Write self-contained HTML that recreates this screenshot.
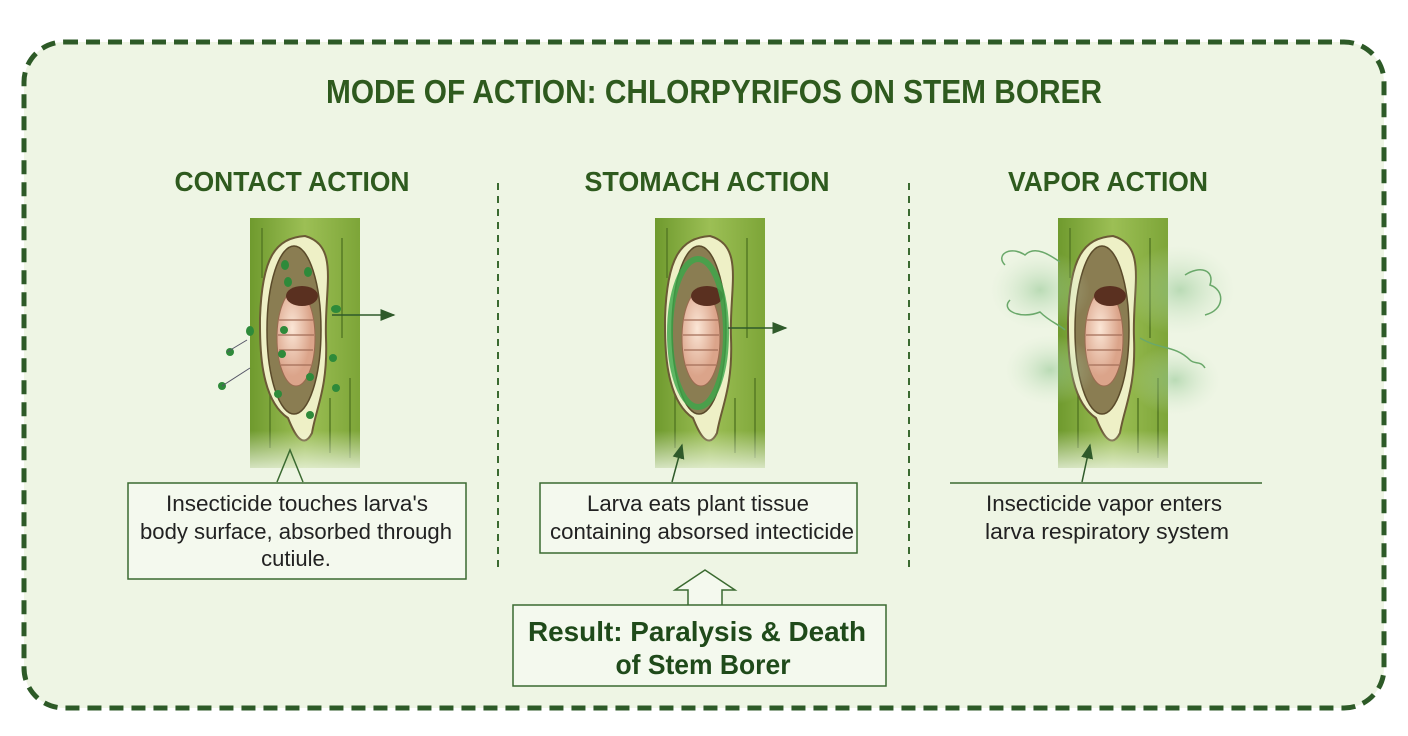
<!DOCTYPE html>
<html><head><style>
body{margin:0;background:#fff}
svg{display:block}
text{font-family:"Liberation Sans",sans-serif}
</style></head><body>
<svg width="1408" height="736" viewBox="0 0 1408 736" xmlns="http://www.w3.org/2000/svg">
<defs>
<linearGradient id="stem" x1="0" x2="1">
<stop offset="0" stop-color="#6f9a2e"/><stop offset="0.5" stop-color="#9cbf55"/><stop offset="1" stop-color="#7da538"/>
</linearGradient>
<linearGradient id="fade" x1="0" y1="0" x2="0" y2="1">
<stop offset="0.85" stop-color="#eef5e4" stop-opacity="0"/><stop offset="1" stop-color="#eef5e4" stop-opacity="0.8"/>
</linearGradient>
<radialGradient id="larva" cx="0.4" cy="0.4"><stop offset="0" stop-color="#fbe6d6"/><stop offset="1" stop-color="#dba48a"/></radialGradient>
<radialGradient id="fog"><stop offset="0" stop-color="#8fc58f" stop-opacity="0.55"/><stop offset="1" stop-color="#cfe6c8" stop-opacity="0"/></radialGradient>
<marker id="ah" markerWidth="10" markerHeight="10" refX="9" refY="5" orient="auto"><path d="M0,1 L10,5 L0,9 Z" fill="#2f5a2a"/></marker>
<g id="stemg">
<rect x="0" y="0" width="110" height="250" fill="url(#stem)"/>
<path d="M12 10 V60 M20 150 V230 M92 20 V120 M100 160 V240 M80 180 V235" stroke="#567a25" stroke-width="1.5" fill="none"/>
<path d="M55 18 C90 28 74 70 76 120 C78 170 66 190 62 215 C52 235 42 210 38 200 C8 180 10 120 10 100 C12 40 25 20 55 18Z" fill="#eef0c6" stroke="#6b5a36" stroke-width="2"/>
<ellipse cx="44" cy="112" rx="27" ry="84" fill="#8a7d52" stroke="#5a4a2a" stroke-width="1.5"/>
<ellipse cx="46" cy="120" rx="19" ry="48" fill="url(#larva)" stroke="#9a6a50"/>
<path d="M29 102 H63 M28 117 H64 M29 132 H63 M31 147 H61" stroke="#a36e58" stroke-width="1.3"/>
<ellipse cx="52" cy="78" rx="16" ry="10" fill="#5a3020"/>
<rect x="0" y="0" width="110" height="250" fill="url(#fade)"/>
</g>
</defs>
<rect width="1408" height="736" fill="#fff"/>
<rect x="24" y="42" width="1360" height="666" rx="40" fill="#eef5e4" stroke="#2d5a27" stroke-width="5" stroke-dasharray="14 8"/>
<text x="714" y="103" text-anchor="middle" font-size="33" font-weight="bold" fill="#2e5a1e" textLength="776" lengthAdjust="spacingAndGlyphs">MODE OF ACTION: CHLORPYRIFOS ON STEM BORER</text>
<text x="292" y="191" text-anchor="middle" font-size="28" font-weight="bold" fill="#2e5a1e" textLength="235" lengthAdjust="spacingAndGlyphs">CONTACT ACTION</text>
<text x="707" y="191" text-anchor="middle" font-size="28" font-weight="bold" fill="#2e5a1e" textLength="245" lengthAdjust="spacingAndGlyphs">STOMACH ACTION</text>
<text x="1108" y="191" text-anchor="middle" font-size="28" font-weight="bold" fill="#2e5a1e" textLength="200" lengthAdjust="spacingAndGlyphs">VAPOR ACTION</text>
<line x1="498" y1="183" x2="498" y2="572" stroke="#3a6a30" stroke-width="2" stroke-dasharray="7 6"/>
<line x1="909" y1="183" x2="909" y2="572" stroke="#3a6a30" stroke-width="2" stroke-dasharray="7 6"/>

<!-- contact -->
<use href="#stemg" x="250" y="218"/>
<g fill="#2e8a3a">
<ellipse cx="285" cy="265" rx="4" ry="5"/><ellipse cx="308" cy="272" rx="4" ry="5"/><ellipse cx="288" cy="282" rx="4" ry="5"/><ellipse cx="336" cy="309" rx="5" ry="4"/>
<ellipse cx="250" cy="331" rx="4" ry="5"/><ellipse cx="230" cy="352" rx="4" ry="4"/><ellipse cx="222" cy="386" rx="4" ry="4"/><ellipse cx="333" cy="358" rx="4" ry="4"/>
<ellipse cx="336" cy="388" rx="4" ry="4"/><ellipse cx="310" cy="377" rx="4" ry="4"/><ellipse cx="278" cy="394" rx="4" ry="4"/><ellipse cx="310" cy="415" rx="4" ry="4"/>
<ellipse cx="284" cy="330" rx="4" ry="4"/><ellipse cx="282" cy="354" rx="4" ry="4"/>
</g>
<path d="M227 352 L247 340 M222 386 L250 368" stroke="#556" stroke-width="1"/>
<line x1="332" y1="315" x2="394" y2="315" stroke="#2f5a2a" stroke-width="1.5" marker-end="url(#ah)"/>
<path d="M277 482 L290 450 L303 482" stroke="#3a6a30" stroke-width="1.5" fill="none"/>
<rect x="128" y="483" width="338" height="96" fill="#f4f9ee" stroke="#3a6a30" stroke-width="1.5"/>
<g font-size="22" fill="#222" text-anchor="middle">
<text x="297" y="511" textLength="262" lengthAdjust="spacingAndGlyphs">Insecticide touches larva's</text>
<text x="296" y="539" textLength="312" lengthAdjust="spacingAndGlyphs">body surface, absorbed through</text>
<text x="296" y="566">cutiule.</text>
</g>

<!-- stomach -->
<use href="#stemg" x="655" y="218"/>
<ellipse cx="698" cy="333" rx="28" ry="74" fill="none" stroke="#3aa84a" stroke-width="6" opacity="0.8"/>
<line x1="728" y1="328" x2="786" y2="328" stroke="#2f5a2a" stroke-width="1.5" marker-end="url(#ah)"/>
<line x1="672" y1="482" x2="682" y2="445" stroke="#2f5a2a" stroke-width="1.5" marker-end="url(#ah)"/>
<rect x="540" y="483" width="317" height="70" fill="#f4f9ee" stroke="#3a6a30" stroke-width="1.5"/>
<g font-size="22" fill="#222" text-anchor="middle">
<text x="698" y="511" textLength="222" lengthAdjust="spacingAndGlyphs">Larva eats plant tissue</text>
<text x="702" y="539" textLength="304" lengthAdjust="spacingAndGlyphs">containing absorsed intecticide</text>
</g>
<path d="M688 605 V590 H675 L705 570 L735 590 H722 V605" fill="#f4f9ee" stroke="#3a6a30" stroke-width="1.5"/>
<rect x="513" y="605" width="373" height="81" fill="#f4f9ee" stroke="#3a6a30" stroke-width="1.5"/>
<g font-size="28" font-weight="bold" fill="#1f4a1a" text-anchor="middle">
<text x="697" y="641" textLength="338" lengthAdjust="spacingAndGlyphs">Result: Paralysis &amp; Death</text>
<text x="703" y="674" textLength="175" lengthAdjust="spacingAndGlyphs">of Stem Borer</text>
</g>

<!-- vapor -->
<use href="#stemg" x="1058" y="218"/>
<ellipse cx="1040" cy="290" rx="50" ry="40" fill="url(#fog)"/>
<ellipse cx="1180" cy="290" rx="55" ry="45" fill="url(#fog)"/>
<ellipse cx="1050" cy="370" rx="45" ry="35" fill="url(#fog)"/>
<ellipse cx="1175" cy="380" rx="45" ry="35" fill="url(#fog)"/>
<path d="M1005 265 C995 255 1010 245 1025 255 C1035 245 1050 255 1060 262 M1010 300 C1000 310 1020 320 1040 312 C1050 322 1060 325 1065 330 M1185 275 C1200 265 1215 270 1210 285 C1225 290 1225 310 1205 315 M1140 338 C1160 350 1175 345 1190 360 C1195 365 1200 360 1205 368" stroke="#6aa86a" stroke-width="1.5" fill="none"/>
<line x1="1082" y1="482" x2="1090" y2="445" stroke="#2f5a2a" stroke-width="1.5" marker-end="url(#ah)"/>
<line x1="950" y1="483" x2="1262" y2="483" stroke="#3a6a30" stroke-width="1.5"/>
<g font-size="22" fill="#222" text-anchor="middle">
<text x="1104" y="511" textLength="236" lengthAdjust="spacingAndGlyphs">Insecticide vapor enters</text>
<text x="1107" y="539" textLength="244" lengthAdjust="spacingAndGlyphs">larva respiratory system</text>
</g>
</svg>
</body></html>
